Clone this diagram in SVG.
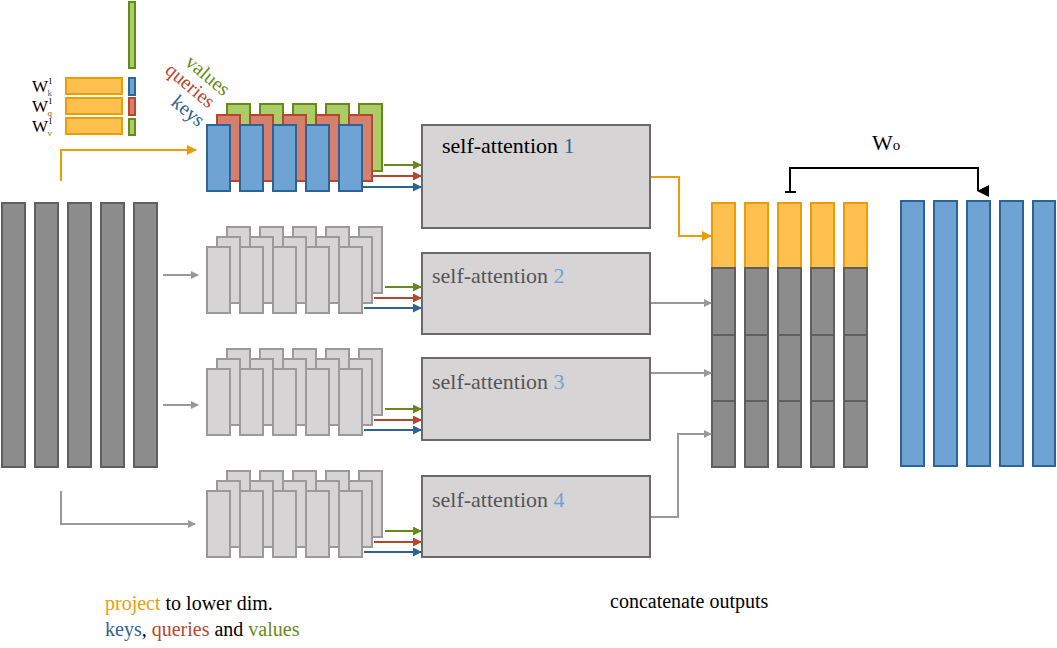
<svg xmlns="http://www.w3.org/2000/svg" width="1057" height="648" viewBox="0 0 1057 648">
<style>
.t{font-family:"Liberation Serif","DejaVu Serif",serif;}
.in{fill:#8c8c8c;stroke:#5f5f5f;stroke-width:2}
.k{fill:#6fa3d4;stroke:#2e6396;stroke-width:2}
.q{fill:#d4806c;stroke:#b8452c;stroke-width:2}
.v{fill:#aacd6a;stroke:#668a1a;stroke-width:2}
.o{fill:#fec14f;stroke:#eb9c06;stroke-width:2}
.g{fill:#d6d4d4;stroke:#9a9a9a;stroke-width:2}
.box{fill:#d6d4d4;stroke:#6a6a6a;stroke-width:2}
.cg{fill:#8c8c8c;stroke:#5f5f5f;stroke-width:2}
.ln{fill:none;stroke-width:2}
</style>
<defs>
<marker id="ag" markerWidth="8" markerHeight="8" refX="7" refY="4" orient="auto" markerUnits="userSpaceOnUse"><path d="M0,0L8,4L0,8z" fill="#999"/></marker>
<marker id="ao" markerWidth="10" markerHeight="10" refX="9" refY="5" orient="auto" markerUnits="userSpaceOnUse"><path d="M0,0L10,5L0,10z" fill="#eb9c06"/></marker>
<marker id="agr" markerWidth="9" markerHeight="9" refX="8" refY="4.5" orient="auto" markerUnits="userSpaceOnUse"><path d="M0,0L9,4.5L0,9z" fill="#668a1a"/></marker>
<marker id="ar" markerWidth="9" markerHeight="9" refX="8" refY="4.5" orient="auto" markerUnits="userSpaceOnUse"><path d="M0,0L9,4.5L0,9z" fill="#b8452c"/></marker>
<marker id="ab" markerWidth="9" markerHeight="9" refX="8" refY="4.5" orient="auto" markerUnits="userSpaceOnUse"><path d="M0,0L9,4.5L0,9z" fill="#2e6396"/></marker>
<marker id="ak" markerWidth="12" markerHeight="12" refX="6" refY="11" orient="auto-start-reverse" markerUnits="userSpaceOnUse"><path d="M0,0L12,0L6,12z" fill="#000"/></marker>
<g id="stk">
<rect class="g" x="20" y="-20" width="23" height="66"/><rect class="g" x="53" y="-20" width="23" height="66"/><rect class="g" x="86" y="-20" width="23" height="66"/><rect class="g" x="119" y="-20" width="23" height="66"/><rect class="g" x="152" y="-20" width="23" height="66"/>
<rect class="g" x="10" y="-10" width="23" height="66"/><rect class="g" x="43" y="-10" width="23" height="66"/><rect class="g" x="76" y="-10" width="23" height="66"/><rect class="g" x="109" y="-10" width="23" height="66"/><rect class="g" x="142" y="-10" width="23" height="66"/>
<rect class="g" x="0" y="0" width="23" height="66"/><rect class="g" x="33" y="0" width="23" height="66"/><rect class="g" x="66" y="0" width="23" height="66"/><rect class="g" x="99" y="0" width="23" height="66"/><rect class="g" x="132" y="0" width="23" height="66"/>
</g>
</defs>
<rect width="1057" height="648" fill="#fff"/>

<g id="input">
<rect class="in" x="2" y="203" width="23" height="264"/><rect class="in" x="35" y="203" width="23" height="264"/><rect class="in" x="68" y="203" width="23" height="264"/><rect class="in" x="101" y="203" width="23" height="264"/><rect class="in" x="134" y="203" width="23" height="264"/>
</g>

<g id="weights">
<rect class="v" x="129" y="2" width="6" height="66"/>
<rect class="o" x="66" y="78" width="56" height="16"/><rect class="o" x="66" y="98" width="56" height="16"/><rect class="o" x="66" y="118" width="56" height="16"/>
<rect class="k" x="129" y="78" width="6" height="17"/><rect class="q" x="129" y="98" width="6" height="17"/><rect class="v" x="129" y="119" width="6" height="16"/>
<text class="t" x="32" y="92" font-size="17">W<tspan font-size="9" dy="-8">1</tspan><tspan font-size="9" dx="-5" dy="12" fill="#2e6396">k</tspan></text>
<text class="t" x="32" y="112" font-size="17">W<tspan font-size="9" dy="-8">1</tspan><tspan font-size="9" dx="-5" dy="12" fill="#b8452c">q</tspan></text>
<text class="t" x="32" y="132" font-size="17">W<tspan font-size="9" dy="-8">1</tspan><tspan font-size="9" dx="-5" dy="12" fill="#668a1a">v</tspan></text>
<text class="t" font-size="20" fill="#668a1a" transform="translate(184,64) rotate(40)">values</text>
<text class="t" font-size="20" fill="#b8452c" transform="translate(164,72) rotate(40)">queries</text>
<text class="t" font-size="20" fill="#2e6396" transform="translate(170,104) rotate(40)">keys</text>
</g>

<g id="kqv1">
<rect class="v" x="227" y="104" width="23" height="67"/><rect class="v" x="260" y="104" width="23" height="67"/><rect class="v" x="293" y="104" width="23" height="67"/><rect class="v" x="326" y="104" width="23" height="67"/><rect class="v" x="359" y="104" width="23" height="67"/>
<rect class="q" x="217" y="115" width="23" height="66"/><rect class="q" x="250" y="115" width="23" height="66"/><rect class="q" x="283" y="115" width="23" height="66"/><rect class="q" x="316" y="115" width="23" height="66"/><rect class="q" x="349" y="115" width="23" height="66"/>
<rect class="k" x="207" y="125" width="23" height="66"/><rect class="k" x="240" y="125" width="23" height="66"/><rect class="k" x="273" y="125" width="23" height="66"/><rect class="k" x="306" y="125" width="23" height="66"/><rect class="k" x="339" y="125" width="23" height="66"/>
</g>
<g id="kqv2"><use href="#stk" x="207" y="247"/></g>
<g id="kqv3"><use href="#stk" x="207" y="369"/></g>
<g id="kqv4"><use href="#stk" x="207" y="491"/></g>

<g id="sa1"><rect class="box" x="422" y="125" width="228" height="103"/><text class="t" x="442" y="153" font-size="22">self-attention <tspan fill="#2e6396">1</tspan></text></g>
<g id="sa2"><rect class="box" x="422" y="253" width="228" height="81"/><text class="t" x="432" y="283" font-size="22" fill="#555">self-attention <tspan fill="#6fa3d4">2</tspan></text></g>
<g id="sa3"><rect class="box" x="422" y="358" width="228" height="82"/><text class="t" x="432" y="389" font-size="22" fill="#555">self-attention <tspan fill="#6fa3d4">3</tspan></text></g>
<g id="sa4"><rect class="box" x="422" y="476" width="228" height="81"/><text class="t" x="432" y="507" font-size="22" fill="#555">self-attention <tspan fill="#6fa3d4">4</tspan></text></g>

<g id="concat">
<rect class="o" x="712" y="203" width="23" height="65"/><rect class="o" x="745" y="203" width="23" height="65"/><rect class="o" x="778" y="203" width="23" height="65"/><rect class="o" x="811" y="203" width="23" height="65"/><rect class="o" x="844" y="203" width="23" height="65"/>
<rect class="cg" x="712" y="268" width="23" height="67"/><rect class="cg" x="745" y="268" width="23" height="67"/><rect class="cg" x="778" y="268" width="23" height="67"/><rect class="cg" x="811" y="268" width="23" height="67"/><rect class="cg" x="844" y="268" width="23" height="67"/>
<rect class="cg" x="712" y="335" width="23" height="66"/><rect class="cg" x="745" y="335" width="23" height="66"/><rect class="cg" x="778" y="335" width="23" height="66"/><rect class="cg" x="811" y="335" width="23" height="66"/><rect class="cg" x="844" y="335" width="23" height="66"/>
<rect class="cg" x="712" y="401" width="23" height="66"/><rect class="cg" x="745" y="401" width="23" height="66"/><rect class="cg" x="778" y="401" width="23" height="66"/><rect class="cg" x="811" y="401" width="23" height="66"/><rect class="cg" x="844" y="401" width="23" height="66"/>
</g>
<g id="output">
<rect class="k" x="901" y="201" width="23" height="265"/><rect class="k" x="934" y="201" width="23" height="265"/><rect class="k" x="967" y="201" width="23" height="265"/><rect class="k" x="1000" y="201" width="23" height="265"/><rect class="k" x="1033" y="201" width="22" height="265"/>
</g>

<g id="connectors">
<path class="ln" stroke="#eb9c06" d="M61,181V150H196" marker-end="url(#ao)"/>
<path class="ln" stroke="#999" d="M163,275H198" marker-end="url(#ag)"/>
<path class="ln" stroke="#999" d="M163,405H198" marker-end="url(#ag)"/>
<path class="ln" stroke="#999" d="M61,491V524H195" marker-end="url(#ag)"/>
<path class="ln" stroke="#668a1a" d="M384,165H421" marker-end="url(#agr)"/>
<path class="ln" stroke="#b8452c" d="M373,176H421" marker-end="url(#ar)"/>
<path class="ln" stroke="#2e6396" d="M363,187H421" marker-end="url(#ab)"/>
<path class="ln" stroke="#668a1a" d="M385,287H421" marker-end="url(#agr)"/>
<path class="ln" stroke="#b8452c" d="M374,298H421" marker-end="url(#ar)"/>
<path class="ln" stroke="#2e6396" d="M364,308H421" marker-end="url(#ab)"/>
<path class="ln" stroke="#668a1a" d="M385,409H421" marker-end="url(#agr)"/>
<path class="ln" stroke="#b8452c" d="M374,420H421" marker-end="url(#ar)"/>
<path class="ln" stroke="#2e6396" d="M364,430H421" marker-end="url(#ab)"/>
<path class="ln" stroke="#668a1a" d="M385,531H421" marker-end="url(#agr)"/>
<path class="ln" stroke="#b8452c" d="M374,542H421" marker-end="url(#ar)"/>
<path class="ln" stroke="#2e6396" d="M364,552H421" marker-end="url(#ab)"/>
<path class="ln" stroke="#eb9c06" d="M651,177H679V236H711" marker-end="url(#ao)"/>
<path class="ln" stroke="#999" d="M651,303H711" marker-end="url(#ag)"/>
<path class="ln" stroke="#999" d="M651,373H711" marker-end="url(#ag)"/>
<path class="ln" stroke="#999" d="M651,517H678V434H711" marker-end="url(#ag)"/>
<path class="ln" stroke="#000" d="M790,192V168H978V191" marker-end="url(#ak)"/>
<path class="ln" stroke="#000" d="M785,192H796"/>
</g>
<text class="t" x="872" y="150" font-size="22">W<tspan font-size="15">o</tspan></text>

<text class="t" x="105" y="610" font-size="20"><tspan fill="#eb9c06">project</tspan> to lower dim.</text>
<text class="t" x="105" y="636" font-size="20"><tspan fill="#2e6396">keys</tspan>, <tspan fill="#b8452c">queries</tspan> and <tspan fill="#668a1a">values</tspan></text>
<text class="t" x="610" y="608" font-size="20">concatenate outputs</text>
</svg>
